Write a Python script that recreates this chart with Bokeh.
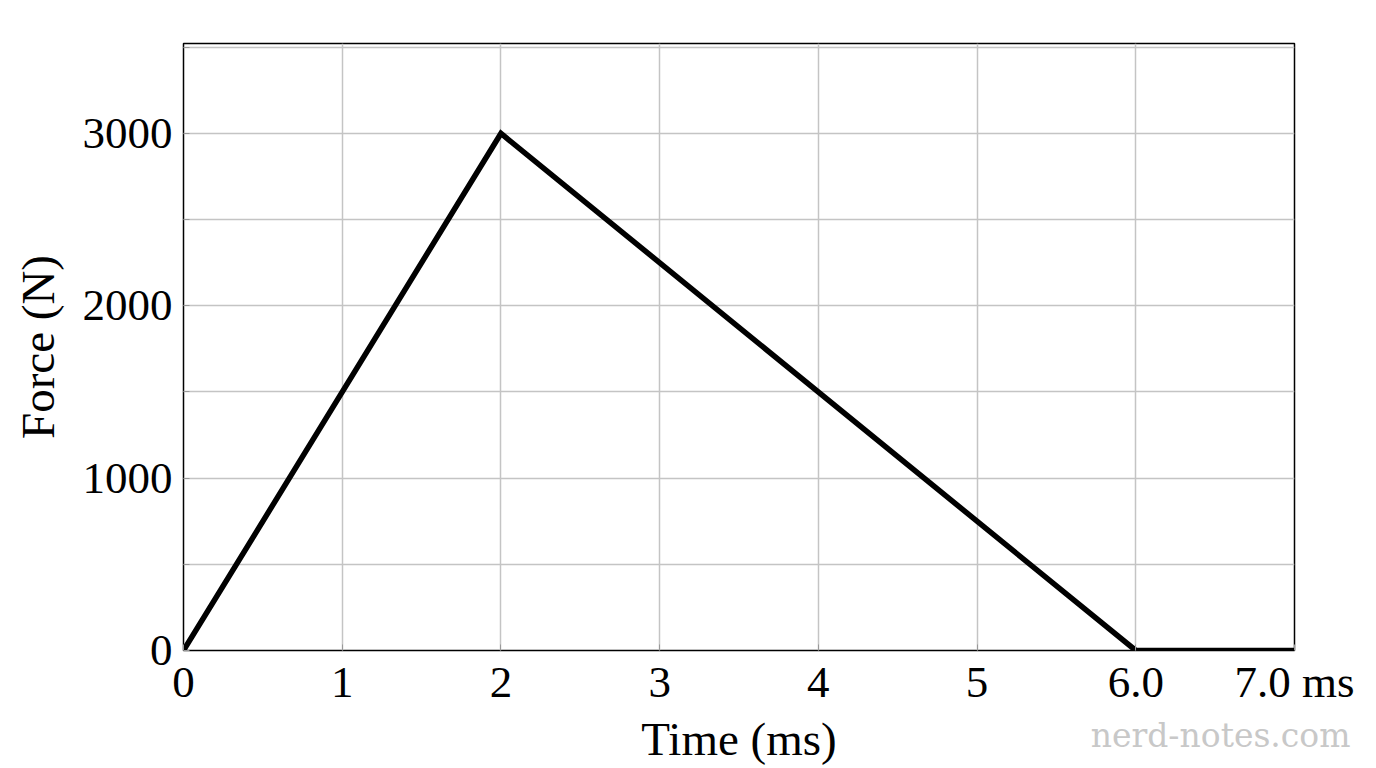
from bokeh.plotting import figure
from bokeh.models import FixedTicker, Range1d, Title
from bokeh.embed import file_html
from bokeh.resources import INLINE

# data
time_ms = [0, 2, 6, 7]
force_n = [0, 3000, 0, 0]
x_ticks = [0, 1, 2, 3, 4, 5, 6, 7]
x_tick_labels = ["0", "1", "2", "3", "4", "5", "6.0", "7.0 ms"]
y_ticks = [0, 1000, 2000, 3000]
y_minor = [500, 1500, 2500, 3500]
y_tick_labels = ["0", "1000", "2000", "3000"]
watermark = "nerd-notes.com"

FONT = "Liberation Serif"

p = figure(frame_width=1111, frame_height=607,
           min_border_left=183, min_border_top=43,
           min_border_right=74, min_border_bottom=100,
           x_range=Range1d(0, 7), y_range=Range1d(0, 3522),
           output_backend="svg", toolbar_location=None)

p.outline_line_color = "black"
p.outline_line_width = 1.5
p.background_fill_color = "white"
p.border_fill_color = "white"

p.xaxis.ticker = FixedTicker(ticks=x_ticks)
p.xaxis.major_label_overrides = {t: l for t, l in zip(x_ticks, x_tick_labels)}
p.yaxis.ticker = FixedTicker(ticks=y_ticks, minor_ticks=y_minor)
p.yaxis.major_label_overrides = {t: l for t, l in zip(y_ticks, y_tick_labels)}

for ax in (p.xaxis[0], p.yaxis[0]):
    ax.axis_line_color = None
    ax.major_tick_in = 6
    ax.major_tick_out = 0
    ax.minor_tick_in = 6
    ax.minor_tick_out = 0
    ax.major_tick_line_color = "#999999"
    ax.minor_tick_line_color = "#999999"
    ax.major_label_text_font = FONT
    ax.major_label_text_font_size = "45px"
    ax.major_label_text_color = "black"
    ax.axis_label_text_font = FONT
    ax.axis_label_text_font_size = "47px"
    ax.axis_label_text_font_style = "normal"
    ax.axis_label_text_color = "black"

p.xaxis.major_label_standoff = 6
p.yaxis.major_label_standoff = 11
p.xaxis.axis_label = "Time (ms)"
p.yaxis.axis_label = "Force (N)"
p.xaxis.axis_label_standoff = 3
p.yaxis.axis_label_standoff = 16

p.xgrid.grid_line_color = "#c4c4c4"
p.xgrid.grid_line_width = 1.5
p.ygrid.grid_line_color = "#c4c4c4"
p.ygrid.grid_line_width = 1.5
p.ygrid.minor_grid_line_color = "#c4c4c4"
p.ygrid.minor_grid_line_width = 1.5

p.line(time_ms, force_n, line_color="black", line_width=5.5, line_join="miter")

wm = Title(text=watermark, align="right", vertical_align="top",
           text_font="DejaVu Serif", text_font_size="33px",
           text_font_style="normal", text_color="#c8c8c8",
           standoff=-104, offset=-56)
p.add_layout(wm, "below")

open("out.html", "w").write(file_html(p, INLINE))
